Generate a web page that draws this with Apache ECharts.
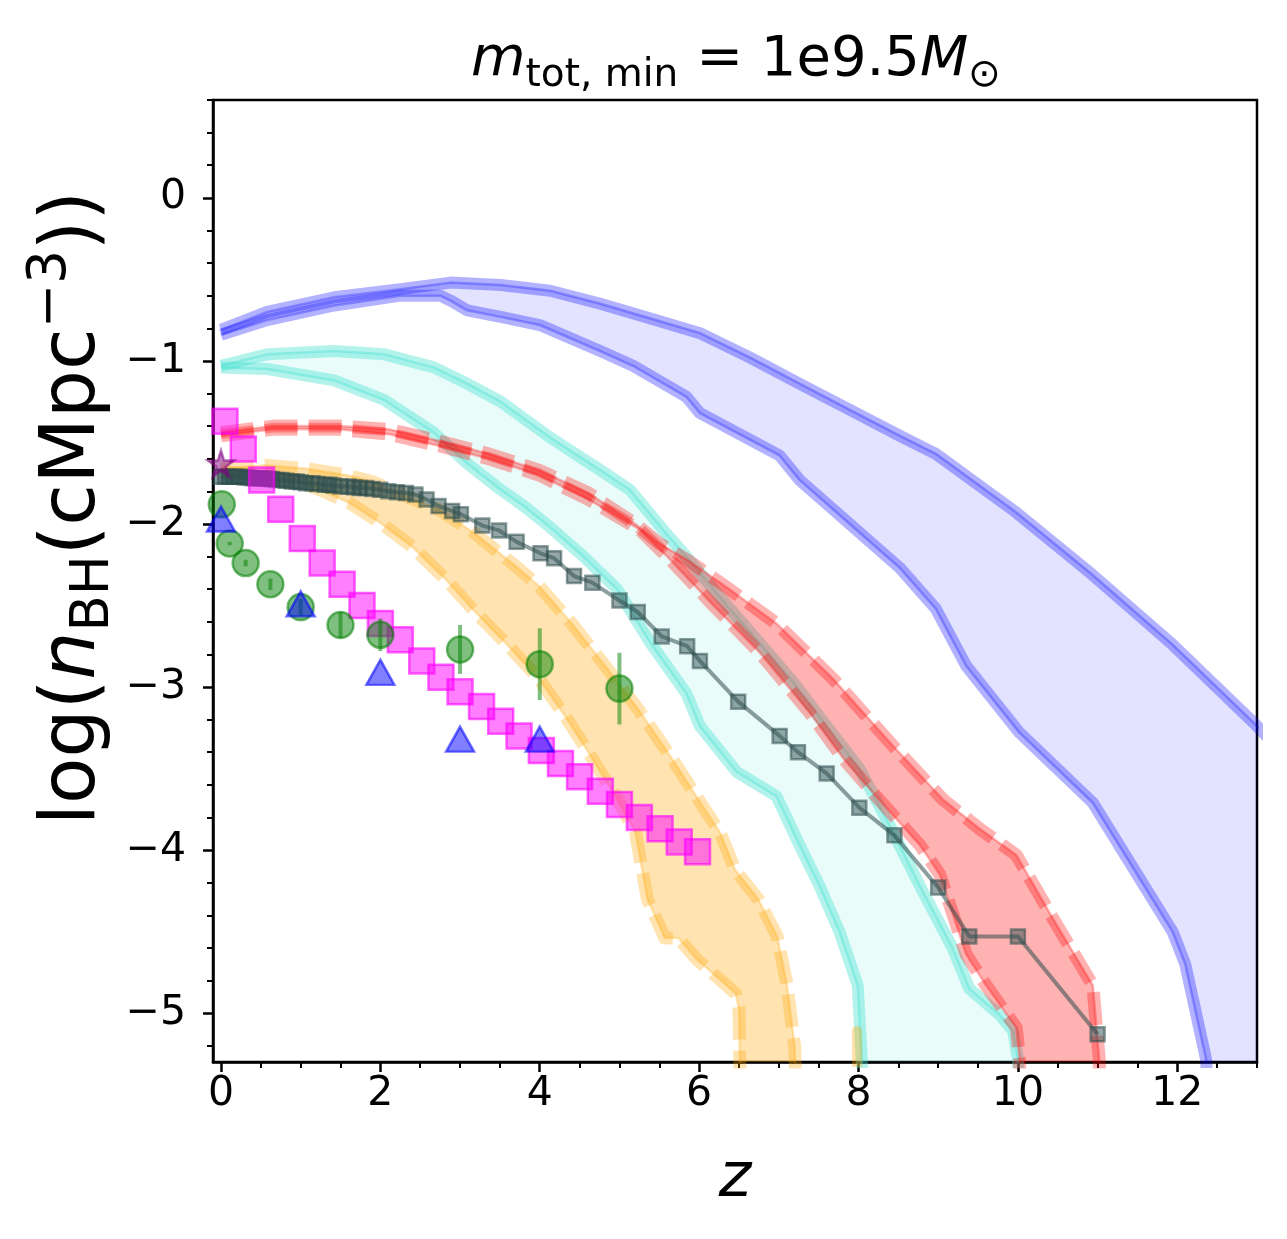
<!DOCTYPE html>
<html><head><meta charset="utf-8">
<script src="https://cdn.jsdelivr.net/npm/echarts@6/dist/echarts.min.js"></script>
<style>html,body{margin:0;padding:0;background:#fff}#c{width:1287px;height:1239px}</style>
</head><body><div id="c"></div>
<script>
// ---------- tick values ----------
const xMajor = [0, 2, 4, 6, 8, 10, 12];
const xMinor = [0.5, 1, 1.5, 2.5, 3, 3.5, 4.5, 5, 5.5, 6.5, 7, 7.5, 8.5, 9, 9.5, 10.5, 11, 11.5, 12.5, 13];
const yMajor = [-5, -4, -3, -2, -1, 0];
const yMinor = [-5.2, -4.8, -4.6, -4.4, -4.2, -3.8, -3.6, -3.4, -3.2, -2.8, -2.6, -2.4, -2.2, -1.8, -1.6, -1.4, -1.2, -0.8, -0.6, -0.4, -0.2, 0.2, 0.4, 0.6];

// ---------- blue band ----------
const blueUpZ = [0, 0.58, 1.42, 2.25, 2.88, 3.51, 4.13, 4.76, 5.39, 6.01, 6.64, 7.26, 7.89, 8.52, 8.97, 9.98, 10.93, 11.94, 12.96, 14];
const blueUpY = [-0.81, -0.70, -0.61, -0.56, -0.52, -0.535, -0.57, -0.65, -0.74, -0.83, -0.98, -1.14, -1.30, -1.46, -1.57, -1.93, -2.31, -2.74, -3.22, -3.75];
const blueLoZ = [0, 0.58, 1.42, 2.25, 2.75, 2.88, 3.09, 3.51, 4.0, 4.76, 5.17, 5.84, 6.01, 7.01, 7.26, 8.52, 8.97, 9.35, 10.02, 10.94, 11.94, 12.1, 12.36, 12.5, 14];
const blueLoY = [-0.84, -0.75, -0.66, -0.60, -0.60, -0.63, -0.69, -0.73, -0.78, -0.94, -1.03, -1.22, -1.32, -1.58, -1.73, -2.27, -2.52, -2.87, -3.28, -3.71, -4.50, -4.70, -5.28, -6.5, -6.5];

// ---------- cyan band ----------
const cyanUpZ = [0, 0.58, 1.42, 2.05, 2.67, 3.09, 3.51, 4.13, 4.76, 5.13, 5.59, 5.84, 6.01, 6.35, 6.76, 7.18, 7.60, 8.01, 8.35, 8.77, 9.18, 9.39, 9.77, 9.94, 10.0, 10.05];
const cyanUpY = [-1.03, -0.96, -0.94, -0.96, -1.04, -1.14, -1.25, -1.47, -1.67, -1.79, -2.06, -2.20, -2.30, -2.50, -2.73, -2.97, -3.24, -3.50, -3.81, -4.22, -4.60, -4.85, -5.01, -5.11, -5.28, -6.5];
const cyanLoZ = [0, 0.58, 1.42, 2.05, 2.67, 3.09, 3.51, 3.80, 4.13, 4.55, 4.97, 5.39, 5.84, 6.01, 6.47, 6.97, 7.26, 7.51, 7.76, 7.99, 8.04, 8.1];
const cyanLoY = [-1.04, -1.05, -1.12, -1.24, -1.44, -1.63, -1.79, -1.89, -2.02, -2.20, -2.40, -2.73, -3.04, -3.24, -3.52, -3.67, -3.97, -4.22, -4.50, -4.83, -5.28, -6.5];

// ---------- red band ----------
const redUpZ = [0, 0.65, 1.48, 2.11, 2.73, 3.36, 3.99, 4.61, 5.2, 5.5, 5.85, 6.35, 6.97, 7.68, 8.43, 9.06, 9.52, 9.98, 10.44, 10.94, 11.02, 11.08];
const redUpY = [-1.44, -1.40, -1.40, -1.42, -1.49, -1.57, -1.67, -1.81, -2.0, -2.12, -2.22, -2.39, -2.61, -2.95, -3.36, -3.69, -3.87, -4.03, -4.42, -4.83, -5.28, -6.5];
const redLoZ = [0, 0.65, 1.48, 2.11, 2.73, 3.36, 3.99, 4.61, 5.24, 5.6, 6.14, 6.76, 7.39, 7.81, 8.22, 8.77, 9.02, 9.35, 9.60, 9.98, 10.02, 10.05];
const redLoY = [-1.46, -1.42, -1.42, -1.45, -1.52, -1.60, -1.70, -1.85, -2.03, -2.20, -2.48, -2.79, -3.16, -3.44, -3.67, -3.97, -4.15, -4.64, -4.83, -5.09, -5.28, -6.5];

// ---------- orange band ----------
const orangeUpZ = [0, 0.56, 1.06, 1.57, 1.9, 2.32, 2.73, 3.19, 3.65, 3.99, 4.40, 4.82, 5.24, 5.66, 5.99, 6.26, 6.45, 6.74, 6.98, 7.1, 7.2, 7.26];
const orangeUpY = [-1.66, -1.64, -1.66, -1.70, -1.74, -1.83, -1.91, -2.06, -2.24, -2.38, -2.61, -2.87, -3.14, -3.44, -3.69, -3.89, -4.12, -4.30, -4.53, -4.82, -5.21, -6.5];
const orangeLoZ = [0, 0.44, 0.86, 1.19, 1.61, 2.02, 2.40, 2.82, 3.19, 3.57, 3.99, 4.32, 4.61, 4.95, 5.20, 5.35, 5.57, 5.74, 5.97, 6.46, 6.50, 6.55];
const orangeLoY = [-1.68, -1.70, -1.73, -1.78, -1.87, -2.0, -2.14, -2.34, -2.54, -2.73, -2.95, -3.18, -3.40, -3.67, -3.89, -4.30, -4.54, -4.54, -4.67, -4.88, -4.98, -6.5];
const orangeTailZ = [7.98, 8.0];
const orangeTailY = [-5.11, -6.5];

// ---------- simulation line (grey squares) ----------
const grayZ = [0, 0.05, 0.1, 0.15, 0.2, 0.24, 0.3, 0.35, 0.4, 0.44, 0.5, 0.55, 0.6, 0.64, 0.7, 0.76, 0.82, 0.89, 0.95, 1.0, 1.07, 1.15, 1.21, 1.3, 1.36, 1.41, 1.5, 1.6, 1.67, 1.74, 1.82, 1.9, 2.0, 2.1, 2.21, 2.32, 2.44, 2.58, 2.73, 2.9, 3.01, 3.28, 3.49, 3.71, 4.01, 4.18, 4.43, 4.66, 5.0, 5.23, 5.53, 5.85, 6.01, 6.49, 7.01, 7.24, 7.6, 8.01, 8.45, 9.0, 9.39, 10.0, 11.0];
const grayY = [-1.71, -1.71, -1.71, -1.71, -1.71, -1.71, -1.715, -1.715, -1.72, -1.72, -1.72, -1.72, -1.725, -1.725, -1.73, -1.73, -1.735, -1.74, -1.74, -1.745, -1.75, -1.75, -1.755, -1.76, -1.76, -1.765, -1.77, -1.77, -1.775, -1.78, -1.78, -1.785, -1.79, -1.80, -1.805, -1.81, -1.82, -1.85, -1.89, -1.92, -1.94, -2.01, -2.04, -2.11, -2.18, -2.21, -2.32, -2.36, -2.47, -2.54, -2.69, -2.75, -2.84, -3.09, -3.30, -3.40, -3.53, -3.74, -3.91, -4.23, -4.53, -4.53, -5.13];

// ---------- observational points ----------
const magZ = [0.05, 0.28, 0.51, 0.75, 1.02, 1.27, 1.52, 1.77, 2.0, 2.25, 2.52, 2.76, 3.0, 3.27, 3.51, 3.74, 4.02, 4.26, 4.5, 4.76, 5.0, 5.25, 5.51, 5.75, 5.98];
const magY = [-1.37, -1.54, -1.73, -1.91, -2.09, -2.24, -2.37, -2.50, -2.61, -2.71, -2.84, -2.94, -3.03, -3.12, -3.21, -3.30, -3.39, -3.47, -3.55, -3.64, -3.72, -3.80, -3.87, -3.95, -4.01];
const greenZ = [0.01, 0.11, 0.31, 0.62, 1.0, 1.5, 2.0, 3.0, 4.0, 5.0];
const greenY = [-1.88, -2.12, -2.24, -2.37, -2.51, -2.62, -2.68, -2.77, -2.86, -3.01];
const greenErr = [0.0, 0.01, 0.02, 0.035, 0.05, 0.08, 0.1, 0.15, 0.22, 0.22];
const triZ = [0.0, 1.0, 2.0, 3.0, 4.0];
const triY = [-1.97, -2.49, -2.91, -3.32, -3.32];
const starZ = [0.0];
const starY = [-1.63];

// ---------- helpers ----------
const pairs = (zs, ys) => zs.map((z, i) => [z, ys[i]]);
const FONT = 'DejaVu Sans';

function bandFill(uz, uy, lz, ly, color, zz) {
  const pts = pairs(uz, uy).concat(pairs(lz, ly).reverse());
  return {
    type: 'custom', data: pts, encode: { x: 0, y: 1 }, silent: true, z: zz,
    renderItem(params, api) {
      if (params.dataIndex !== 0) return null;
      const cs = params.coordSys;
      return {
        type: 'group',
        clipPath: { type: 'rect', shape: { x: cs.x, y: cs.y, width: cs.width, height: cs.height } },
        children: [{ type: 'polygon', shape: { points: pts.map(p => api.coord(p)) }, style: { fill: color } }]
      };
    }
  };
}
function edge(zs, ys, color, dashed, zz, op) {
  const data = pairs(zs, ys);
  return [
    { type: 'line', data, symbol: 'none', silent: true, z: zz,
      lineStyle: { color, width: dashed ? 13 : 12, opacity: op, type: dashed ? [33, 11] : 'solid', cap: 'butt', join: 'round' } },
    { type: 'line', data, symbol: 'none', silent: true, z: zz,
      lineStyle: { color, width: 2.5, opacity: op * 0.9, join: 'round' } }
  ];
}
const minus = v => (v < 0 ? '\u2212' + Math.abs(v) : String(v));

// five-pointed star symbol path
const starPath = (() => {
  let d = '';
  for (let k = 0; k < 10; k++) {
    const r = k % 2 === 0 ? 50 : 19;
    const a = -Math.PI / 2 + k * Math.PI / 5;
    d += (k === 0 ? 'M' : 'L') + (50 + r * Math.cos(a)).toFixed(2) + ' ' + (50 + r * Math.sin(a)).toFixed(2) + ' ';
  }
  return 'path://' + d + 'Z';
})();

const series = [];
series.push(bandFill(blueUpZ, blueUpY, blueLoZ, blueLoY, 'rgba(0,0,255,0.11)', 1));
series.push(...edge(blueUpZ, blueUpY, '#0000ff', false, 1, 0.3));
series.push(...edge(blueLoZ, blueLoY, '#0000ff', false, 1, 0.3));
series.push(bandFill(cyanUpZ, cyanUpY, cyanLoZ, cyanLoY, 'rgba(64,224,208,0.11)', 2));
series.push(...edge(cyanUpZ, cyanUpY, '#40e0d0', false, 2, 0.4));
series.push(...edge(cyanLoZ, cyanLoY, '#40e0d0', false, 2, 0.4));
series.push(bandFill(redUpZ, redUpY, redLoZ, redLoY, 'rgba(255,0,0,0.3)', 3));
series.push(...edge(redUpZ, redUpY, '#ff0000', true, 3, 0.3));
series.push(...edge(redLoZ, redLoY, '#ff0000', true, 3, 0.3));
series.push(bandFill(orangeUpZ, orangeUpY, orangeLoZ, orangeLoY, 'rgba(255,165,0,0.3)', 4));
series.push(...edge(orangeUpZ, orangeUpY, '#ffa500', true, 4, 0.3));
series.push(...edge(orangeLoZ, orangeLoY, '#ffa500', true, 4, 0.3));
series.push({ type: 'line', data: pairs(orangeTailZ, orangeTailY), symbol: 'none', silent: true, z: 4,
  lineStyle: { color: '#ffa500', width: 10, opacity: 0.35, cap: 'round' } });

series.push({ type: 'line', data: pairs(grayZ, grayY), z: 5, symbol: 'rect', symbolSize: 14, showAllSymbol: true,
  lineStyle: { color: '#2f4f4f', width: 4, opacity: 0.55 },
  itemStyle: { color: 'rgba(47,79,79,0.5)', borderColor: 'rgba(47,79,79,0.55)', borderWidth: 2.5, opacity: 1 } });
series.push({ type: 'scatter', data: pairs(magZ, magY), z: 6, symbol: 'rect', symbolSize: 25,
  itemStyle: { color: 'rgba(255,0,255,0.5)', borderColor: 'rgba(255,0,255,0.6)', borderWidth: 2.5, opacity: 1 } });
series.push({ type: 'custom', z: 7, silent: true, encode: { x: 0, y: 1 },
  data: greenZ.map((z, i) => [z, greenY[i], greenErr[i]]),
  renderItem(params, api) {
    const z = api.value(0), y = api.value(1), e = api.value(2);
    const a = api.coord([z, y - e]), b = api.coord([z, y + e]);
    return { type: 'line', shape: { x1: a[0], y1: a[1], x2: b[0], y2: b[1] },
      style: { stroke: 'rgba(0,128,0,0.5)', lineWidth: 4 } };
  } });
series.push({ type: 'scatter', data: pairs(greenZ, greenY), z: 7, symbol: 'circle', symbolSize: 26,
  itemStyle: { color: 'rgba(0,128,0,0.5)', borderColor: 'rgba(0,128,0,0.55)', borderWidth: 2.5, opacity: 1 } });
series.push({ type: 'scatter', data: pairs(triZ, triY), z: 8, symbol: 'triangle', symbolSize: [28, 25],
  itemStyle: { color: 'rgba(0,0,255,0.5)', borderColor: 'rgba(0,0,255,0.55)', borderWidth: 2.5, opacity: 1 } });
series.push({ type: 'scatter', data: pairs(starZ, starY), z: 9, symbol: starPath, symbolSize: 26,
  itemStyle: { color: 'rgba(128,0,128,0.5)', borderColor: 'rgba(128,0,128,0.55)', borderWidth: 2.5, opacity: 1 } });

const axisBase = { type: 'value', splitLine: { show: false }, gridIndex: 0 };
const option = {
  animation: false,
  backgroundColor: '#fff',
  grid: { left: 213, top: 100, right: 30, bottom: 177, show: true, borderColor: '#000', borderWidth: 2.5, backgroundColor: 'transparent', containLabel: false, outerBoundsMode: 'none' },
  xAxis: [
    Object.assign({}, axisBase, { min: -0.1, max: 13, position: 'bottom',
      axisLine: { show: true, onZero: false, lineStyle: { color: '#000', width: 2.5 } },
      axisTick: { show: true, customValues: xMajor, length: 10, lineStyle: { color: '#000', width: 2.5 } },
      axisLabel: { show: true, customValues: xMajor, formatter: minus, fontFamily: FONT, fontSize: 41, color: '#000', margin: 12 } }),
    Object.assign({}, axisBase, { min: -0.1, max: 13, position: 'bottom',
      axisLine: { show: false, onZero: false },
      axisTick: { show: true, customValues: xMinor, length: 6, lineStyle: { color: '#000', width: 2 } },
      axisLabel: { show: false } })
  ],
  yAxis: [
    Object.assign({}, axisBase, { min: -5.3, max: 0.6, position: 'left',
      axisLine: { show: true, onZero: false, lineStyle: { color: '#000', width: 2.5 } },
      axisTick: { show: true, customValues: yMajor, length: 10, lineStyle: { color: '#000', width: 2.5 } },
      axisLabel: { show: true, customValues: yMajor, formatter: minus, fontFamily: FONT, fontSize: 41, color: '#000', margin: 27 } }),
    Object.assign({}, axisBase, { min: -5.3, max: 0.6, position: 'left',
      axisLine: { show: false, onZero: false },
      axisTick: { show: true, customValues: yMinor, length: 6, lineStyle: { color: '#000', width: 2 } },
      axisLabel: { show: false } })
  ],
  graphic: [
    { type: 'text', x: 736, y: 60, silent: true, style: {
      text: '{i|m}{s|tot, min}{n| = 1e9.5}{i|M}{s|\u2299}', align: 'center', verticalAlign: 'middle',
      rich: {
        i: { fontFamily: FONT, fontStyle: 'italic', fontSize: 56, lineHeight: 66, fill: '#000' },
        n: { fontFamily: FONT, fontSize: 56, lineHeight: 66, fill: '#000' },
        s: { fontFamily: FONT, fontSize: 39, lineHeight: 48, padding: [32, 0, 0, 0], fill: '#000' }
      } } },
    { type: 'text', x: 74, y: 508, rotation: Math.PI / 2, silent: true, style: {
      text: '{n|log(}{i|n}{s|BH}{n|(cMpc}{p|\u22123}{n|))}', align: 'center', verticalAlign: 'middle',
      rich: {
        i: { fontFamily: FONT, fontStyle: 'italic', fontSize: 76, lineHeight: 88, fill: '#000' },
        n: { fontFamily: FONT, fontSize: 76, lineHeight: 88, fill: '#000' },
        s: { fontFamily: FONT, fontSize: 53, lineHeight: 62, padding: [40, 0, 0, 0], fill: '#000' },
        p: { fontFamily: FONT, fontSize: 53, lineHeight: 62, padding: [0, 0, 46, 0], fill: '#000' }
      } } },
    { type: 'text', x: 735, y: 1180, silent: true, style: {
      text: 'z', align: 'center', verticalAlign: 'middle', fontFamily: FONT, fontStyle: 'italic', fontSize: 62, fill: '#000' } }
  ],
  series: series.map(s => Object.assign({ xAxisIndex: 0, yAxisIndex: 0 }, s))
};
const chart = echarts.init(document.getElementById('c'), null, { renderer: 'canvas' });
chart.setOption(option);
</script>
</body></html>
